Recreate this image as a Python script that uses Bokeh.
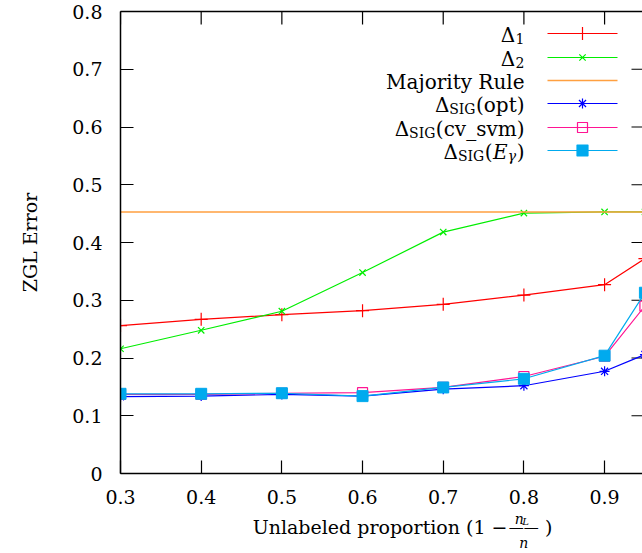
from bokeh.plotting import figure
from bokeh.models import Range1d, FixedTicker, LinearAxis
from bokeh.layouts import column
from bokeh.core.properties import value
from bokeh.embed import file_html
from bokeh.resources import INLINE

# ---------------- data ----------------
proportion = [0.3, 0.4, 0.5, 0.6, 0.7, 0.8, 0.9, 0.95]
delta_1 = [0.256, 0.267, 0.275, 0.282, 0.293, 0.309, 0.327, 0.372]
delta_2 = [0.216, 0.248, 0.281, 0.348, 0.418, 0.451, 0.453, 0.453]
majority_rule = [0.453, 0.453, 0.453, 0.453, 0.453, 0.453, 0.453, 0.453]
sig_opt = [0.133, 0.134, 0.137, 0.134, 0.146, 0.152, 0.177, 0.206]
sig_cv_svm = [0.137, 0.137, 0.139, 0.140, 0.149, 0.168, 0.203, 0.290]
sig_e_gamma = [0.138, 0.138, 0.139, 0.134, 0.149, 0.164, 0.204, 0.313]

x_ticks = [0.3, 0.4, 0.5, 0.6, 0.7, 0.8, 0.9]
x_tick_labels = ["0.3", "0.4", "0.5", "0.6", "0.7", "0.8", "0.9"]
y_ticks = [0.0, 0.1, 0.2, 0.3, 0.4, 0.5, 0.6, 0.7, 0.8]
y_tick_labels = ["0", "0.1", "0.2", "0.3", "0.4", "0.5", "0.6", "0.7", "0.8"]

# ---------------- layout ----------------
FONT = "DejaVu Serif"
W = 642
H1, H2 = 511, 42          # main figure, strip for the x-axis title
BL, BR, BT, BB = 120, 0, 11, 38
X0, X1 = 0.3, 0.947
Y0, Y1 = 0.0, 0.8
FW, FH = W - BL - BR, H1 - BT - BB


def px_x(px):
    return X0 + (px - BL) * (X1 - X0) / FW


def px_y(py):
    return Y0 + ((H1 - BB) - py) * (Y1 - Y0) / FH


p = figure(width=W, height=H1, x_range=Range1d(X0, X1), y_range=Range1d(Y0, Y1),
           output_backend="svg", toolbar_location=None,
           min_border_left=BL, min_border_right=BR, min_border_top=BT,
           min_border_bottom=BB, background_fill_color="white",
           border_fill_color="white")
p.outline_line_color = None
p.xgrid.visible = False
p.ygrid.visible = False


def style_axis(ax, ticks, labels, standoff):
    ax.ticker = FixedTicker(ticks=ticks)
    ax.major_label_overrides = {t: l for t, l in zip(ticks, labels)}
    ax.major_tick_in = 13
    ax.major_tick_out = 0
    ax.minor_tick_line_color = None
    ax.axis_line_color = "black"
    ax.axis_line_width = 1.5
    ax.major_tick_line_color = "black"
    ax.major_tick_line_width = 1.2
    ax.major_label_text_font = FONT
    ax.major_label_text_font_size = "19px"
    ax.major_label_text_color = "black"
    ax.major_label_standoff = standoff


style_axis(p.xaxis[0], x_ticks, x_tick_labels, 16)
style_axis(p.yaxis[0], y_ticks, y_tick_labels, 18)
p.yaxis[0].axis_label = "ZGL Error"
p.yaxis[0].axis_label_text_font = FONT
p.yaxis[0].axis_label_text_font_size = "19px"
p.yaxis[0].axis_label_text_font_style = "normal"
p.yaxis[0].axis_label_text_color = "black"
p.yaxis[0].axis_label_standoff = 28

# top border line (ticks drawn below as mirrored segments)
top_axis = LinearAxis(ticker=FixedTicker(ticks=[]), major_tick_in=0, major_tick_out=0,
                      minor_tick_line_color=None, major_label_standoff=0,
                      axis_line_color="black", axis_line_width=1.5)
p.add_layout(top_axis, "above")

# mirrored ticks on top and right edges
TICK = 13
p.segment(x0=x_ticks, x1=x_ticks, y0=[Y1] * len(x_ticks),
          y1=[px_y(BT + TICK)] * len(x_ticks), line_color="black", line_width=1.2)
p.segment(x0=[px_x(631)] * len(y_ticks), x1=[X1] * len(y_ticks), y0=y_ticks,
          y1=y_ticks, line_color="black", line_width=1.2)

# ---------------- series ----------------
RED, GREEN, ORANGE = "#ff0000", "#00ee00", "#ffa040"
BLUE, PINK, CYAN = "#0000ff", "#ff1493", "#00aaee"

p.line(proportion, delta_1, line_color=RED, line_width=1.2)
p.scatter(proportion, delta_1, marker="cross", size=13, line_color=RED, line_width=1.2)
p.line(proportion, delta_2, line_color=GREEN, line_width=1.2)
p.scatter(proportion, delta_2, marker="x", size=9, line_color=GREEN, line_width=1.2)
p.line(proportion, majority_rule, line_color=ORANGE, line_width=1.5)
p.line(proportion, sig_opt, line_color=BLUE, line_width=1.2)
p.scatter(proportion, sig_opt, marker="asterisk", size=10, line_color=BLUE, line_width=1.2)
p.line(proportion, sig_cv_svm, line_color=PINK, line_width=1.2)
p.scatter(proportion, sig_cv_svm, marker="square", size=10, line_color=PINK,
          fill_color=None, line_width=1.2)
p.line(proportion, sig_e_gamma, line_color=CYAN, line_width=1.2)
p.scatter(proportion, sig_e_gamma, marker="square", size=11, line_color=CYAN,
          fill_color=CYAN, line_width=1)

# ---------------- legend (text right-aligned, sample to the right) ----------------
ADV = {"(": 0.39, ")": 0.39, "o": 0.602, "p": 0.64, "t": 0.402, "c": 0.56,
       "v": 0.565, "_": 0.5, "s": 0.513, "m": 0.948, "S": 0.685, "I": 0.372,
       "G": 0.775, "Δ": 0.754, "E": 0.73, "γ": 0.58, "1": 0.636, "2": 0.636}


def text_width(text, size):
    return sum(ADV.get(ch, 0.6) for ch in text) * size


def put(fig, xs, ys, text, size, align="left", style="normal", baseline="alphabetic"):
    fig.text(x=[xs], y=[ys], text=[text], text_font=value(FONT),
             text_font_size=f"{size}px", text_align=align, text_baseline=baseline,
             text_font_style=style, text_color="black")


LEG_RIGHT, LEG_S0, LEG_S1, LEG_M = 524, 547, 617, 582
legend_rows = [
    (33, [("Δ", 20, "normal", 0), ("1", 14, "normal", 4)], RED, "cross", 13, RED),
    (57, [("Δ", 20, "normal", 0), ("2", 14, "normal", 4)], GREEN, "x", 9, GREEN),
    (80, [("Majority Rule", 20, "normal", 0)], ORANGE, None, 0, None),
    (103, [("Δ", 20, "normal", 0), ("SIG", 14, "normal", 4), ("(opt)", 20, "normal", 0)],
     BLUE, "asterisk", 10, BLUE),
    (127, [("Δ", 20, "normal", 0), ("SIG", 14, "normal", 4), ("(cv_svm)", 20, "normal", 0)],
     PINK, "square", 10, None),
    (150, [("Δ", 20, "normal", 0), ("SIG", 14, "normal", 4), ("(", 20, "normal", 0),
           ("E", 20, "italic", 0), ("γ", 14, "italic", 4), (")", 20, "normal", 0)],
     CYAN, "square", 11, CYAN),
]
for row_y, pieces, color, marker, msize, mfill in legend_rows:
    base = row_y + 1
    right = LEG_RIGHT
    for text, size, style, drop in reversed(pieces):
        put(p, px_x(right), px_y(base + drop), text, size, align="right", style=style)
        right -= text_width(text, size) + 0.5
    p.line([px_x(LEG_S0), px_x(LEG_S1)], [px_y(row_y), px_y(row_y)],
           line_color=color, line_width=1.5 if marker is None else 1.2)
    if marker:
        p.scatter([px_x(LEG_M)], [px_y(row_y)], marker=marker, size=msize,
                  line_color=color, fill_color=mfill, line_width=1.2)

# ---------------- x axis title with fraction (own strip, pixel units) ----------------
q = figure(width=W, height=H2, x_range=Range1d(0, W), y_range=Range1d(H2, 0),
           output_backend="svg", toolbar_location=None, min_border=0,
           x_axis_location=None, y_axis_location=None,
           background_fill_color="white", border_fill_color="white")
q.outline_line_color = None
q.grid.visible = False

put(q, 476, 526 - H1, "Unlabeled proportion (1 −", 19, align="right")
put(q, 485, 518 - H1, "n", 14, style="italic")
put(q, 494, 521 - H1, "L", 10, style="italic")
put(q, 496, 526 - H1, "——", 15, align="center", baseline="middle")
put(q, 496, 542 - H1, "n", 14, align="center", style="italic")
put(q, 522, 526 - H1, ")", 19)

open("out.html", "w").write(file_html(column(p, q, spacing=0), INLINE))
